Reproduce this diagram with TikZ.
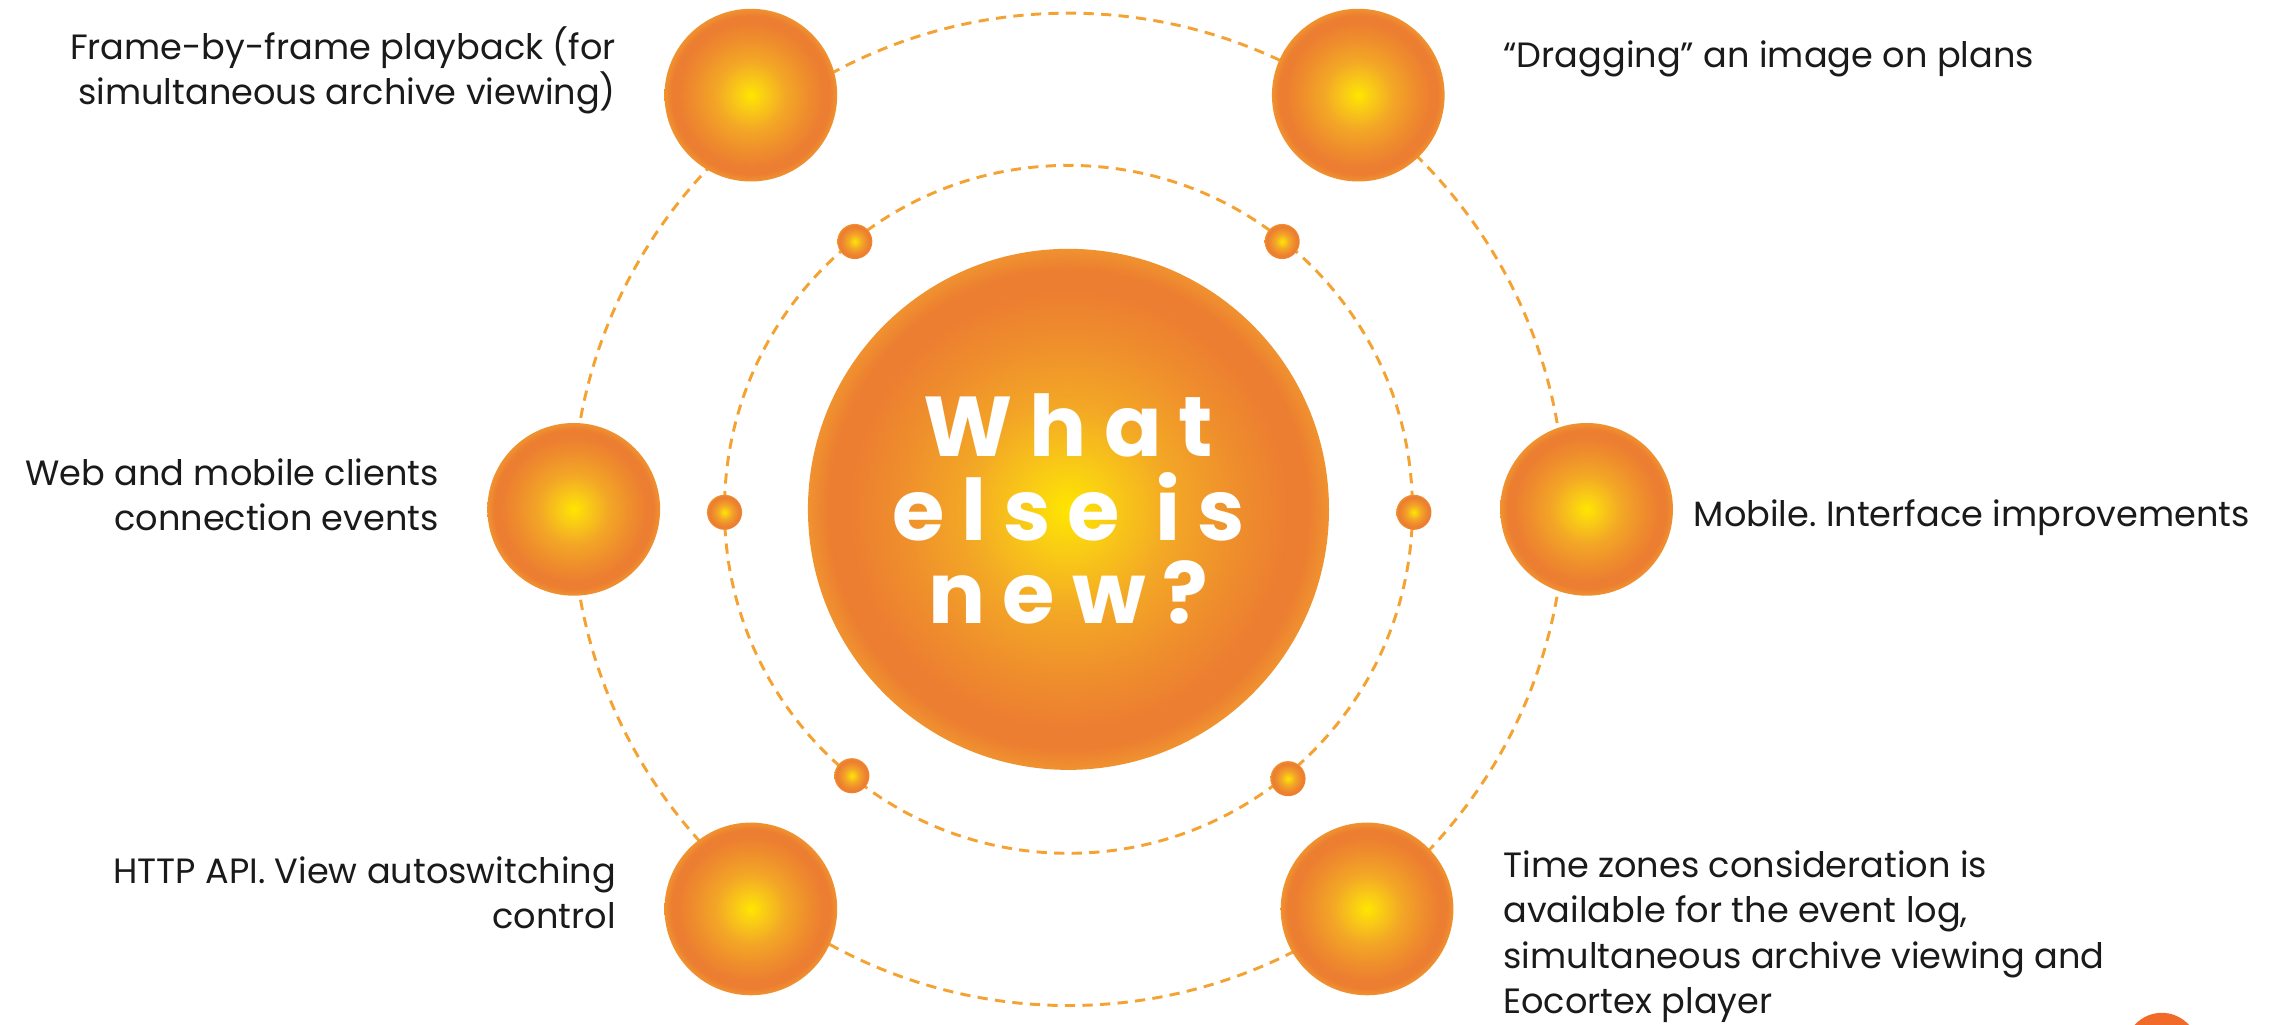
\documentclass[tikz,border=0pt]{standalone}
\usepackage{fontspec}
\setmainfont{Poppins}
\newfontfamily\headfont[LetterSpace=20]{Poppins}
\definecolor{sunA}{HTML}{FFE600}
\definecolor{sunB}{HTML}{F9CC15}
\definecolor{sunC}{HTML}{F3A726}
\definecolor{sunD}{HTML}{EF8F2C}
\definecolor{sunO}{HTML}{EC7E31}
\definecolor{sunE}{HTML}{F0922F}
\definecolor{dashC}{HTML}{F4A232}
\definecolor{spotC}{HTML}{F26A2A}
\definecolor{txtC}{HTML}{1A1A1A}
\pgfdeclareradialshading{sunball}{\pgfpoint{0bp}{0bp}}{color(0bp)=(sunA); color(4bp)=(sunB); color(10bp)=(sunC); color(16bp)=(sunD); color(21bp)=(sunO); color(23bp)=(sunO); color(25bp)=(sunE); color(50bp)=(sunE)}
\tikzset{
  ball/.style={circle, shade, shading=sunball, minimum size=#1, inner sep=0pt},
  orbit/.style={draw=dashC, line width=2pt, dash pattern=on 7pt off 5pt},
  lbl/.style={font=\frenchspacing\fontsize{24}{31}\selectfont, text=txtC, inner sep=0pt},
  headtxt/.style={text=white, font=\headfont\bfseries\fontsize{58}{57}\selectfont, align=center}
}
\begin{document}
\begin{tikzpicture}[x=1pt, y=-1pt]
\useasboundingbox (0,0) rectangle (1568,700);
\fill[white] (0,0) rectangle (1568,700);
\clip (0,0) rectangle (1568,700);
\coordinate (c) at (730,348);
% orbits
\draw[orbit] (c) circle[radius=339];
\draw[orbit] (c) circle[radius=235];
% center
\node[ball=356pt, headtxt] (core) at (c) {What\\else is\\new?};
% inner dots
\node[ball=24pt] (d1) at (584,165) {};
\node[ball=24pt] (d2) at (876,165) {};
\node[ball=24pt] (d3) at (495,350) {};
\node[ball=24pt] (d4) at (966,350) {};
\node[ball=24pt] (d5) at (582,530) {};
\node[ball=24pt] (d6) at (880,532) {};
% satellites
\node[ball=118pt] (s1) at (513,65) {};
\node[ball=118pt] (s2) at (928,65) {};
\node[ball=118pt] (s3) at (392,348) {};
\node[ball=118pt] (s4) at (1084,348) {};
\node[ball=118pt] (s5) at (513,621) {};
\node[ball=118pt] (s6) at (934,621) {};
% partial spot
\node[circle, fill=spotC, minimum size=50pt, inner sep=0pt] (spot) at (1477,717) {};
% labels
\node[lbl, anchor=east, align=right] (t1) at (421,48) {Frame-by-frame playback (for\\simultaneous archive viewing)};
\node[lbl, anchor=west, align=left] (t2) at (1027,40) {“Dragging” an image on plans};
\node[lbl, anchor=east, align=right] (t3) at (300,338) {Web and mobile clients\\connection events};
\node[lbl, anchor=west, align=left] (t4) at (1157,354) {Mobile. Interface improvements};
\node[lbl, anchor=east, align=right] (t5) at (421,610) {HTTP API. View autoswitching\\control};
\node[lbl, anchor=west, align=left] (t6) at (1027,640) {Time zones consideration is\\available for the event log,\\simultaneous archive viewing and\\Eocortex player};
\end{tikzpicture}
\end{document}
